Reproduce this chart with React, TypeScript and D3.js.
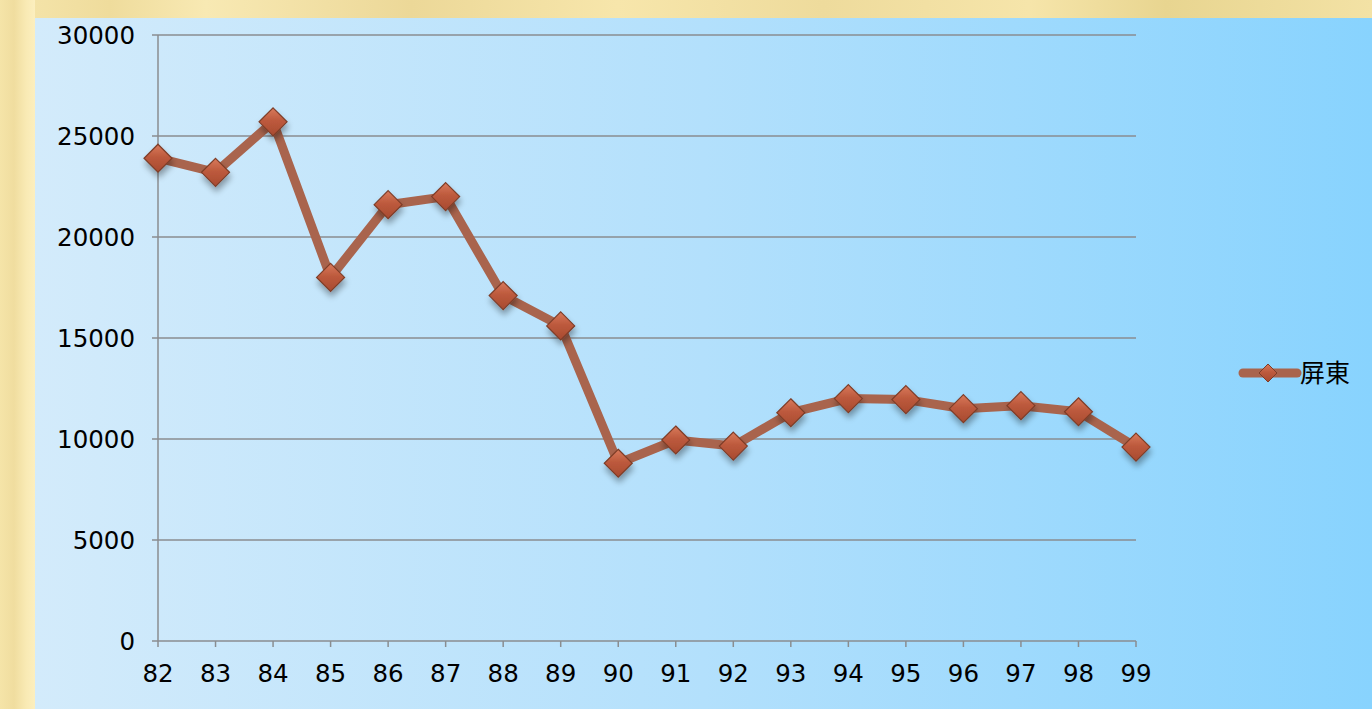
import React from "react";
import * as d3 from "d3";

const years = ["82", "83", "84", "85", "86", "87", "88", "89", "90", "91", "92", "93", "94", "95", "96", "97", "98", "99"];
const values = [23900, 23200, 25700, 18000, 21600, 22000, 17100, 15600, 8800, 9950, 9650, 11300, 12000, 11950, 11500, 11650, 11350, 9600];
const yTicks = [0, 5000, 10000, 15000, 20000, 25000, 30000];
const seriesName = "屏東";

const W = 1372;
const H = 709;
const plot = { left: 158, right: 1136, top: 35, bottom: 641 };

const diamond = (cx: number, cy: number, r: number) =>
  `M${cx},${cy - r}L${cx + r},${cy}L${cx},${cy + r}L${cx - r},${cy}Z`;

export default function App() {
  const x = d3.scalePoint<string>().domain(years).range([plot.left, plot.right]);
  const y = d3.scaleLinear().domain([0, 30000]).range([plot.bottom, plot.top]);

  const line = d3
    .line<number>()
    .x((_, i) => x(years[i]) as number)
    .y((d) => y(d));

  const font = "'DejaVu Sans', Verdana, sans-serif";

  return (
    <svg width={W} height={H} style={{ position: "absolute", left: 0, top: 0 }}>
      <defs>
        <linearGradient id="bg" x1="0" y1="0" x2="1" y2="0">
          <stop offset="0" stopColor="#d3ebfb" />
          <stop offset="0.5" stopColor="#b3e0fc" />
          <stop offset="1" stopColor="#88d3fe" />
        </linearGradient>
        <linearGradient id="beigeTop" x1="0" y1="0" x2="1" y2="0">
          <stop offset="0" stopColor="#f6e6ad" />
          <stop offset="0.08" stopColor="#efdc9c" />
          <stop offset="0.15" stopColor="#f8e9b3" />
          <stop offset="0.3" stopColor="#ecd898" />
          <stop offset="0.45" stopColor="#f7e6ab" />
          <stop offset="0.6" stopColor="#eedb9c" />
          <stop offset="0.75" stopColor="#f6e5aa" />
          <stop offset="0.85" stopColor="#e8d590" />
          <stop offset="1" stopColor="#f3e2a5" />
        </linearGradient>
        <linearGradient id="beigeLeft" x1="0" y1="0" x2="1" y2="0">
          <stop offset="0" stopColor="#f5e4a8" />
          <stop offset="0.4" stopColor="#f0dd9f" />
          <stop offset="0.75" stopColor="#f9eab4" />
          <stop offset="1" stopColor="#fcefbf" />
        </linearGradient>
        <linearGradient id="marker" x1="0" y1="0" x2="0" y2="1">
          <stop offset="0" stopColor="#d97a5c" />
          <stop offset="0.45" stopColor="#bd5a3d" />
          <stop offset="1" stopColor="#a84a30" />
        </linearGradient>
        <filter id="shadow" x="-50%" y="-50%" width="200%" height="200%">
          <feGaussianBlur in="SourceAlpha" stdDeviation="3" />
          <feOffset dx="1" dy="5" result="b" />
          <feComponentTransfer>
            <feFuncA type="linear" slope="0.35" />
          </feComponentTransfer>
          <feMerge>
            <feMergeNode />
            <feMergeNode in="SourceGraphic" />
          </feMerge>
        </filter>
      </defs>

      <rect x={0} y={0} width={W} height={H} fill="url(#beigeTop)" />
      <rect x={0} y={0} width={35} height={H} fill="url(#beigeLeft)" />
      <rect x={35} y={18} width={W - 35} height={H - 18} fill="url(#bg)" />

      {yTicks.map((t) => (
        <g key={t}>
          <line x1={plot.left - 6} x2={plot.right} y1={y(t)} y2={y(t)} stroke="#8a8d90" strokeWidth={1.5} />
          <text x={135} y={y(t)} dy="0.36em" textAnchor="end" fontFamily={font} fontSize={24.5} fill="#000">
            {t}
          </text>
        </g>
      ))}
      <line x1={plot.left} x2={plot.left} y1={plot.top} y2={plot.bottom} stroke="#8a8d90" strokeWidth={1.5} />

      {years.map((yr) => (
        <g key={yr}>
          <line x1={x(yr)} x2={x(yr)} y1={plot.bottom} y2={plot.bottom + 6} stroke="#8a8d90" strokeWidth={1.5} />
          <text x={x(yr)} y={682} textAnchor="middle" fontFamily={font} fontSize={24.5} fill="#000">
            {yr}
          </text>
        </g>
      ))}

      <path d={line(values) ?? ""} fill="none" stroke="#a9644d" strokeWidth={9} strokeLinejoin="round" />

      <g filter="url(#shadow)">
        {values.map((v, i) => (
          <path
            key={i}
            d={diamond(x(years[i]) as number, y(v), 14)}
            fill="url(#marker)"
            stroke="#7e3d28"
            strokeWidth={1.2}
          />
        ))}
      </g>

      <g>
        <line x1={1243} x2={1297} y1={373} y2={373} stroke="#a9644d" strokeWidth={9} strokeLinecap="round" />
        <path d={diamond(1268, 373, 9)} fill="url(#marker)" stroke="#7e3d28" strokeWidth={1} />
        <text x={1300} y={373} dy="0.36em" fontFamily="'Noto Sans CJK TC', sans-serif" fontSize={25} fill="#000">
          {seriesName}
        </text>
      </g>
    </svg>
  );
}
